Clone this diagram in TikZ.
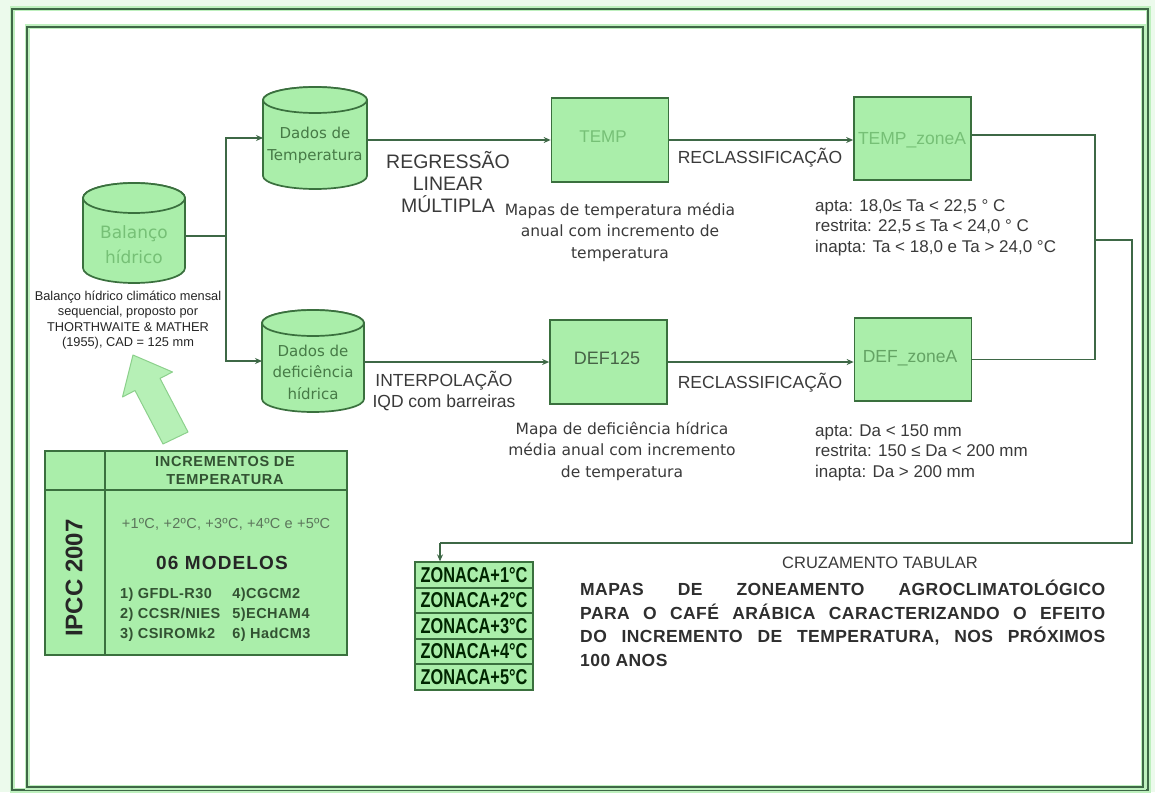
\documentclass[tikz,border=0pt]{standalone}
\usepackage{fontspec}
\usepackage{graphicx}
\setmainfont{Liberation Sans}
\newfontfamily\gothic{DejaVu Sans}
\usetikzlibrary{arrows.meta,calc}
\definecolor{cdk}{RGB}{62,104,70}
\definecolor{bdk}{RGB}{58,112,62}
\definecolor{lg}{RGB}{170,238,170}
\definecolor{paleg}{RGB}{118,192,118}
\definecolor{midg}{RGB}{70,122,70}
\definecolor{darkg}{RGB}{50,82,50}
\definecolor{tgray}{RGB}{58,58,58}
\definecolor{bgg}{RGB}{236,250,236}
\definecolor{glowg}{RGB}{190,240,190}
\definecolor{arrfill}{RGB}{182,240,182}
\definecolor{arrdraw}{RGB}{140,208,140}
\newcommand\drawcyl[5]{%
  \pgfmathsetmacro\cyltc{#2+#5}\pgfmathsetmacro\cylbc{#3-#5}%
  \pgfmathsetmacro\cyll{#1-#4}\pgfmathsetmacro\cylr{#1+#4}%
  \path[cylfill] (\cyll,\cyltc) -- (\cyll,\cylbc) arc[start angle=180,end angle=360,x radius=#4pt,y radius=#5pt] -- (\cylr,\cyltc) arc[start angle=0,end angle=180,x radius=#4pt,y radius=#5pt] -- cycle;
  \draw[cylfill] (#1,\cyltc) ellipse[x radius=#4pt, y radius=#5pt];
}
\newcommand\zonatxt[1]{\scalebox{0.76}[1]{\bfseries\fontsize{21.5}{22}\selectfont #1}}
\begin{document}
\begin{tikzpicture}[x=1pt,y=-1pt,
  conn/.style={draw=cdk, line width=1.7pt},
  arr/.style={conn, -{Stealth[length=7pt,width=6pt]}},
  hit/.style={inner sep=0pt, outer sep=0pt},
  cylfill/.style={fill=lg, draw=bdk, line width=1.7pt},
  gbox/.style={draw=bdk, fill=lg, line width=1.7pt, minimum width=117pt, minimum height=84pt, inner sep=0pt},
  frame/.style={draw=cdk, line width=2pt},
  glow/.style={draw=glowg, line width=5pt},
  gtxt/.style={font=\gothic\fontsize{15.5}{21.5}\selectfont, text=tgray, align=center, inner sep=0pt},
  atxt/.style={font=\fontsize{17.5}{21.5}\selectfont, text=tgray, align=center, inner sep=0pt},
  crit/.style={font=\fontsize{17}{20.5}\selectfont, text=tgray, align=left, anchor=north west, inner sep=0pt},
  zbox/.style={draw=bdk, fill=lg, line width=1.8pt, minimum width=118pt, minimum height=25.5pt, inner sep=0pt, text=black!85!green},
  tbold/.style={font=\bfseries\fontsize{14.5}{18}\selectfont, text=darkg, align=center, inner sep=0pt}
]
\useasboundingbox (0,0) rectangle (1155,792);
\fill[bgg] (0,0) rectangle (1155,792);
\fill[white] (12,9) rectangle (1148,790);
% frames
\draw[glow] (12,9) rectangle (1148,790);
\draw[frame] (12,9) rectangle (1148,790);
\draw[glow] (27,27) rectangle (1143,787);
\draw[frame] (27,27) rectangle (1143,787);

% cylinders
\drawcyl{134}{183}{283}{51}{15}
\drawcyl{315}{87}{189}{52}{13}
\drawcyl{313}{310}{412}{51}{13}
\node[hit, minimum width=102pt, minimum height=100pt] (bal) at (134,236) {};
\node[hit, minimum width=104pt, minimum height=102pt] (dt) at (315,138) {};
\node[hit, minimum width=102pt, minimum height=102pt] (dd) at (313,361) {};
\node[font=\gothic\fontsize{17}{25}\selectfont, text=paleg, align=center, inner sep=0pt] (balt) at (134,245) {Balanço\\hídrico};
\node[font=\gothic\fontsize{15}{22}\selectfont, text=midg, align=center, inner sep=0pt] (dtt) at (315,145) {Dados de\\Temperatura};
\node[font=\gothic\fontsize{15}{21.5}\selectfont, text=midg, align=center, inner sep=0pt] (ddt) at (313,372) {Dados de\\deficiência\\hídrica};
\node[font=\fontsize{12.8}{15.3}\selectfont, text=black!85, align=center, inner sep=0pt] (balcap) at (128,320) {Balanço hídrico climático mensal\\sequencial, proposto por\\THORTHWAITE \& MATHER\\(1955), CAD = 125 mm};

% boxes
\node[gbox] (temp) at (610,140) {};
\node[gbox] (def) at (608.5,362) {};
\node[gbox, minimum height=83pt] (tza) at (912.5,138.5) {};
\node[gbox, minimum height=83pt] (dza) at (913,359.5) {};
\node[font=\fontsize{17}{20}\selectfont, text=paleg, inner sep=0pt] (tempt) at (603,137) {TEMP};
\node[font=\fontsize{18}{20}\selectfont, text=darkg!90, inner sep=0pt] (deft) at (607,358) {DEF125};
\node[font=\fontsize{17.5}{20}\selectfont, text=paleg, inner sep=0pt] (tzat) at (912,140) {TEMP\_zoneA};
\node[font=\fontsize{17.5}{20}\selectfont, text=paleg!85!black, inner sep=0pt] (dzat) at (910,358) {DEF\_zoneA};

% labels
\node[font=\fontsize{19.5}{22}\selectfont, text=tgray, align=center, inner sep=0pt] (regr) at (448,182) {REGRESSÃO\\LINEAR\\MÚLTIPLA};
\node[gtxt] (mapt) at (620,232) {Mapas de temperatura média\\anual com incremento de\\temperatura};
\node[atxt] (recl1) at (760,158) {RECLASSIFICAÇÃO};
\node[atxt] (recl2) at (760,383) {RECLASSIFICAÇÃO};
\node[atxt] (interp) at (444,391) {INTERPOLAÇÃO\\IQD com barreiras};
\node[gtxt] (mapd) at (622,451) {Mapa de deficiência hídrica\\média anual com incremento\\de temperatura};
\node[crit] (crt) at (815,199) {apta: 18,0≤ Ta < 22,5 ° C\\restrita: 22,5 ≤ Ta < 24,0 ° C\\inapta: Ta < 18,0 e Ta > 24,0 °C};
\node[crit] (crd) at (815,424) {apta: Da < 150 mm\\restrita: 150 ≤ Da < 200 mm\\inapta: Da > 200 mm};

% connectors
\coordinate (split) at (226,236);
\draw[conn] (bal.east) -- (split);
\draw[arr] (split) |- (dt.west);
\draw[arr] (split) |- (dd.west);
\draw[arr] (dt.east |- temp.west) -- (temp.west);
\draw[arr] (temp.east) -- (temp.east -| tza.west);
\draw[arr] (dd.east |- def.west) -- (def.west);
\draw[arr] (def.east) -- (def.east -| dza.west);
\coordinate (jt) at (1095,135);
\coordinate (jm) at (1095,240);
\coordinate (jr) at (1132,240);
\coordinate (zin) at (440,543);
\draw[conn] (tza.east |- jt) -- (jt) -- (jm);
\draw[conn] (dza.east) -| (jm);
\draw[conn] (jm) -- (jr) |- (zin);

% big arrow
\draw[fill=arrfill, draw=arrdraw, line width=1pt, line join=round]
  (188,432) -- (160,378.4) -- (172.5,372) -- (133,355) -- (122.5,397) -- (135,390.5) -- (163,444) -- cycle;

% IPCC table
\node[draw=bdk, fill=lg, line width=1.6pt, minimum width=302pt, minimum height=204pt, inner sep=0pt] (tab) at (196,553) {};
\draw[draw=bdk, line width=1.4pt] (tab.north west |- 0,490) -- (tab.north east |- 0,490);
\draw[draw=bdk, line width=1.4pt] (tab.north -| 105,0) -- (tab.south -| 105,0);
\node[tbold] (inch) at (225,471) {\addfontfeatures{LetterSpace=5}INCREMENTOS DE\\\addfontfeatures{LetterSpace=5}TEMPERATURA};
\node[font=\fontsize{14.5}{16}\selectfont, text=darkg!80, inner sep=0pt] (incv) at (226,524) {\addfontfeatures{LetterSpace=2}+1ºC, +2ºC, +3ºC, +4ºC e +5ºC};
\node[font=\bfseries\fontsize{19}{22}\selectfont, text=black!85, inner sep=0pt] (mod) at (222,563) {\addfontfeatures{LetterSpace=6}06 MODELOS};
\node[font=\bfseries\fontsize{14.5}{20}\selectfont, text=darkg, anchor=north west, inner sep=0pt] (modl) at (120,584) {\addfontfeatures{LetterSpace=3}\begin{tabular}{@{}l@{\hspace{12pt}}l@{}}1) GFDL-R30 & 4)CGCM2\\2) CCSR/NIES & 5)ECHAM4\\3) CSIROMk2 & 6) HadCM3\end{tabular}};
\node[font=\bfseries\fontsize{24}{26}\selectfont, text=black!85, rotate=90, inner sep=0pt] (ipcc) at (74,578) {IPCC 2007};

% ZONACA stack
\node[zbox] (z1) at (474,575) {\zonatxt{ZONACA+1°C}};
\node[zbox] (z2) at (474,600.5) {\zonatxt{ZONACA+2°C}};
\node[zbox] (z3) at (474,626) {\zonatxt{ZONACA+3°C}};
\node[zbox] (z4) at (474,651.5) {\zonatxt{ZONACA+4°C}};
\node[zbox] (z5) at (474,677) {\zonatxt{ZONACA+5°C}};
\draw[arr] (zin) -- (zin |- z1.north);

\node[font=\fontsize{16.5}{18}\selectfont, text=tgray, inner sep=0pt] (cruz) at (880,563) {CRUZAMENTO TABULAR};
\node[font=\bfseries\fontsize{17.5}{23.5}\selectfont, text=black!82, text width=525pt, align=justify, anchor=north west, inner sep=0pt] (mapas) at (580,580) {\addfontfeatures{LetterSpace=2.5}MAPAS DE ZONEAMENTO AGROCLIMATOLÓGICO\linebreak PARA O CAFÉ ARÁBICA CARACTERIZANDO O EFEITO\linebreak DO INCREMENTO DE TEMPERATURA, NOS PRÓXIMOS\linebreak 100 ANOS};
\end{tikzpicture}
\end{document}
